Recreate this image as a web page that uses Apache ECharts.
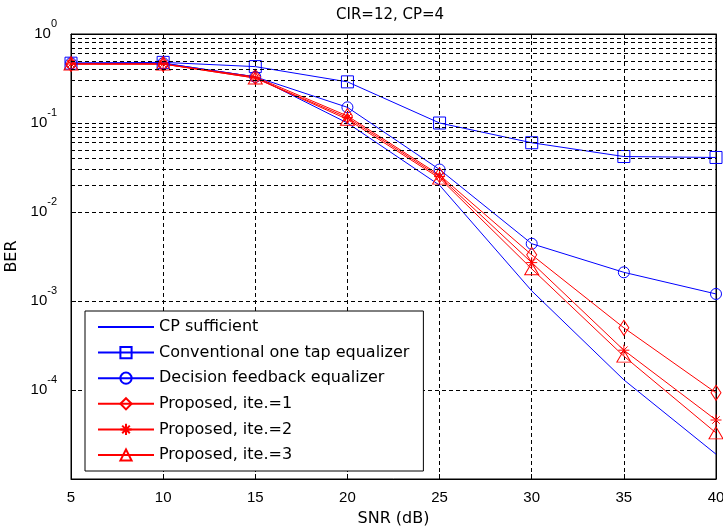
<!DOCTYPE html>
<html>
<head>
<meta charset="utf-8">
<script src="https://cdn.jsdelivr.net/npm/echarts@6/dist/echarts.min.js"></script>
<style>
  html, body { margin: 0; padding: 0; background: #fff; }
  #chart-container { width: 723px; height: 530px; }
</style>
</head>
<body>
<div id="chart-container"></div>
<script>
var myChart = echarts.init(document.getElementById('chart-container'));

// --- data ---
const snr = [5, 10, 15, 20, 25, 30, 35, 40];
const cpSufficient = [0.47, 0.47, 0.33, 0.10, 0.020, 0.0013, 1.3e-4, 1.9e-5];
const conventional = [0.47, 0.48, 0.43, 0.29, 0.10, 0.060, 0.042, 0.041];
const decisionFb = [0.47, 0.47, 0.33, 0.15, 0.030, 0.0044, 0.0021, 0.0012];
const proposed1 = [0.46, 0.46, 0.33, 0.12, 0.026, 0.0033, 5.0e-4, 9.3e-5];
const proposed2 = [0.46, 0.46, 0.32, 0.115, 0.025, 0.0027, 2.8e-4, 4.6e-5];
const proposed3 = [0.46, 0.46, 0.32, 0.11, 0.024, 0.0023, 2.4e-4, 3.3e-5];

const seriesNames = [
    'CP sufficient',
    'Conventional one tap equalizer',
    'Decision feedback equalizer',
    'Proposed, ite.=1',
    'Proposed, ite.=2',
    'Proposed, ite.=3'
];

// minor grid lines of the log axis (2..9 in every decade)
const decades = [1e-5, 1e-4, 1e-3, 1e-2, 1e-1];
const minorMult = [2, 3, 4, 5, 6, 7, 8, 9];

const BLUE = '#0000ff';
const RED = '#ff0000';
const NUMFONT = 'Liberation Sans';
const FONT = 'DejaVu Sans';
const DASH = [4, 3];
const ASTERISK = 'path://M5,0L5,10M0,5L10,5M1.6,1.6L8.4,8.4M1.6,8.4L8.4,1.6';

function pairs(ys) {
    return snr.map((x, i) => [x, ys[i]]);
}

function curve(name, ys, color, symbol, size) {
    const noMark = symbol === 'none';
    return {
        name: name,
        type: 'line',
        data: pairs(ys),
        symbol: symbol,
        symbolSize: size,
        showSymbol: !noMark,
        z: 3,
        lineStyle: { color: color, width: 1 },
        itemStyle: {
            color: 'rgba(0,0,0,0)',
            borderColor: noMark ? 'rgba(0,0,0,0)' : color,
            borderWidth: 1
        },
        emphasis: { disabled: true },
        animation: false
    };
}

let minorLines = [];
decades.forEach(d => {
    minorMult.forEach(m => minorLines.push({ yAxis: d * m }));
});

const option = {
    animation: false,
    title: {
        text: 'CIR=12, CP=4',
        left: 331,
        top: 3,
        textStyle: { fontFamily: FONT, fontSize: 15, fontWeight: 'normal', color: '#000' }
    },
    grid: {
        left: 71, right: 7, top: 34, bottom: 51,
        show: true, borderColor: '#000', borderWidth: 1,
        containLabel: false,
        outerBoundsMode: 'none'
    },
    legend: {
        data: seriesNames,
        orient: 'vertical',
        left: 85,
        top: 311,
        itemWidth: 56,
        itemHeight: 14,
        itemGap: 9.6,
        padding: [8, 14, 8, 12],
        backgroundColor: '#fff',
        borderColor: '#000',
        borderWidth: 1,
        textStyle: { fontFamily: FONT, fontSize: 16, color: '#000' },
        selectedMode: false
    },
    xAxis: [
        {
            type: 'value', min: 5, max: 40, interval: 5,
            name: 'SNR (dB)', nameLocation: 'middle', nameGap: 32,
            nameTextStyle: { fontFamily: FONT, fontSize: 16, color: '#000' },
            axisLine: { lineStyle: { color: '#000' } },
            axisTick: { inside: true, length: 5, lineStyle: { color: '#000' } },
            axisLabel: { fontFamily: NUMFONT, fontSize: 15, color: '#000', margin: 11 },
            splitLine: { show: true, lineStyle: { color: '#000', type: DASH, width: 1 } }
        },
        {
            type: 'value', min: 5, max: 40, interval: 5, position: 'top',
            axisLine: { lineStyle: { color: '#000' } },
            axisTick: { inside: true, length: 5, lineStyle: { color: '#000' } },
            axisLabel: { show: false },
            splitLine: { show: false }
        }
    ],
    yAxis: [
        {
            type: 'log', logBase: 10, min: 1e-5, max: 1,
            name: 'BER', nameLocation: 'middle', nameGap: 49, nameRotate: 90,
            nameTextStyle: { fontFamily: FONT, fontSize: 16, color: '#000' },
            axisLine: { lineStyle: { color: '#000' } },
            axisTick: { inside: true, length: 5, lineStyle: { color: '#000' } },
            axisLabel: {
                showMinLabel: false,
                margin: 14,
                color: '#000',
                formatter: function (v) {
                    const e = Math.round(Math.log10(v));
                    return '{b|10}{s|' + e + '}';
                },
                rich: {
                    b: { fontFamily: NUMFONT, fontSize: 15, color: '#000' },
                    s: { fontFamily: NUMFONT, fontSize: 11, color: '#000', padding: [0, 0, 20, 0] }
                }
            },
            splitLine: { show: true, lineStyle: { color: '#000', type: DASH, width: 1 } }
        },
        {
            type: 'log', logBase: 10, min: 1e-5, max: 1, position: 'right',
            axisLine: { lineStyle: { color: '#000' } },
            axisTick: { inside: true, length: 5, lineStyle: { color: '#000' } },
            axisLabel: { show: false },
            splitLine: { show: false }
        }
    ],
    series: [
        {
            name: 'minor-grid',
            type: 'line',
            data: [],
            z: 1,
            silent: true,
            markLine: {
                silent: true,
                symbol: ['none', 'none'],
                label: { show: false },
                lineStyle: { color: '#000', type: DASH, width: 1 },
                emphasis: { disabled: true },
                animation: false,
                data: minorLines
            }
        },
        curve(seriesNames[0], cpSufficient, BLUE, 'none', 0),
        curve(seriesNames[1], conventional, BLUE, 'rect', 12),
        curve(seriesNames[2], decisionFb, BLUE, 'circle', 11),
        curve(seriesNames[3], proposed1, RED, 'diamond', [10, 15]),
        curve(seriesNames[4], proposed2, RED, ASTERISK, 11),
        curve(seriesNames[5], proposed3, RED, 'triangle', [14, 12])
    ]
};

myChart.setOption(option);

window.addEventListener('resize', function () {
    myChart.resize();
});
</script>
</body>
</html>
